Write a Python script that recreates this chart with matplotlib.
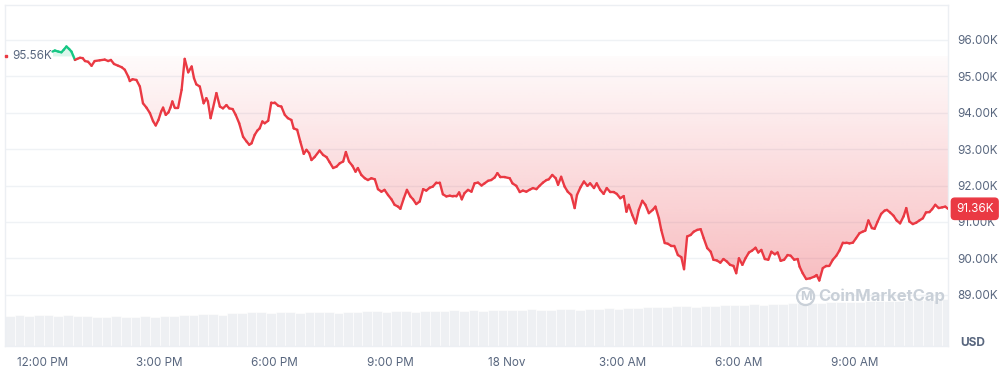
import numpy as np
import matplotlib
matplotlib.use("Agg")
import matplotlib.pyplot as plt
from matplotlib.collections import LineCollection

plt.rcParams["font.family"] = ["Inter", "DejaVu Sans"]

GRAY = "#58667e"
GRID = "#eff2f5"
RED = "#ea3943"
GREEN = "#16c784"

# hours after 12:00 PM (17 Nov) and BTC price in thousands of USD
hours = [
    0.25, 0.31, 0.40, 0.48, 0.54, 0.61, 0.68, 0.74, 0.83, 0.89,
    0.96, 1.03, 1.09, 1.17, 1.26, 1.34, 1.47, 1.60, 1.69, 1.76,
    1.84, 1.95, 2.04, 2.12, 2.21, 2.25, 2.32, 2.42, 2.51, 2.59,
    2.68, 2.77, 2.85, 2.92, 2.99, 3.06, 3.11, 3.18, 3.25, 3.30,
    3.35, 3.41, 3.50, 3.59, 3.67, 3.76, 3.85, 3.91, 3.97, 4.06,
    4.16, 4.23, 4.27, 4.34, 4.40, 4.49, 4.58, 4.66, 4.75, 4.82,
    4.91, 4.99, 5.08, 5.18, 5.27, 5.34, 5.40, 5.48, 5.55, 5.61,
    5.68, 5.74, 5.83, 5.91, 6.00, 6.09, 6.17, 6.26, 6.34, 6.43,
    6.49, 6.58, 6.66, 6.75, 6.82, 6.89, 6.95, 7.03, 7.16, 7.25,
    7.34, 7.42, 7.51, 7.60, 7.68, 7.77, 7.84, 7.92, 8.01, 8.09,
    8.15, 8.24, 8.33, 8.41, 8.50, 8.59, 8.67, 8.76, 8.84, 8.93,
    9.02, 9.10, 9.19, 9.25, 9.34, 9.42, 9.51, 9.58, 9.66, 9.75,
    9.84, 9.92, 10.01, 10.09, 10.18, 10.27, 10.35, 10.44, 10.53, 10.61,
    10.70, 10.77, 10.84, 10.91, 11.00, 11.09, 11.17, 11.26, 11.35, 11.43,
    11.52, 11.60, 11.69, 11.76, 11.84, 11.95, 12.08, 12.15, 12.25, 12.34,
    12.42, 12.51, 12.59, 12.68, 12.77, 12.85, 12.94, 13.03, 13.09, 13.18,
    13.27, 13.33, 13.41, 13.50, 13.58, 13.67, 13.76, 13.82, 13.91, 14.00,
    14.09, 14.16, 14.26, 14.33, 14.42, 14.51, 14.59, 14.68, 14.77, 14.85,
    14.94, 15.03, 15.10, 15.16, 15.25, 15.34, 15.42, 15.51, 15.59, 15.68,
    15.78, 15.85, 15.94, 16.00, 16.09, 16.17, 16.26, 16.34, 16.43, 16.52,
    16.59, 16.67, 16.76, 16.84, 16.93, 17.02, 17.10, 17.19, 17.28, 17.35,
    17.44, 17.53, 17.61, 17.70, 17.78, 17.87, 17.94, 18.01, 18.10, 18.18,
    18.27, 18.35, 18.44, 18.51, 18.59, 18.68, 18.77, 18.85, 18.94, 19.01,
    19.09, 19.18, 19.27, 19.35, 19.44, 19.53, 19.58, 19.66, 19.75, 19.85,
    19.97, 20.02, 20.09, 20.18, 20.27, 20.35, 20.44, 20.53, 20.61, 20.70,
    20.79, 20.87, 20.96, 21.04, 21.13, 21.21, 21.28, 21.36, 21.45, 21.52,
    21.60, 21.69, 21.78, 21.84, 21.92, 22.01, 22.09, 22.18, 22.27, 22.34,
    22.42, 22.51, 22.60, 22.68, 22.77, 22.85, 22.94, 23.01, 23.09, 23.18,
    23.27, 23.35, 23.42,
]
prices = [
    95.68, 95.71, 95.68, 95.66, 95.73, 95.82, 95.75, 95.68, 95.45, 95.48,
    95.51, 95.50, 95.42, 95.40, 95.29, 95.42, 95.44, 95.46, 95.42, 95.45,
    95.34, 95.29, 95.25, 95.18, 94.99, 94.87, 94.92, 94.90, 94.72, 94.26,
    94.14, 93.99, 93.77, 93.65, 93.80, 94.03, 94.14, 93.94, 94.01, 94.14,
    94.31, 94.14, 94.14, 94.63, 95.48, 95.11, 95.27, 94.95, 94.78, 94.72,
    94.26, 94.40, 94.31, 93.85, 94.12, 94.54, 94.17, 94.12, 94.21, 94.12,
    94.10, 93.94, 93.71, 93.34, 93.21, 93.12, 93.16, 93.39, 93.51, 93.57,
    93.76, 93.71, 93.78, 94.28, 94.28, 94.19, 94.17, 93.94, 93.85, 93.80,
    93.57, 93.53, 93.21, 92.87, 92.98, 92.89, 92.70, 92.78, 92.96, 92.84,
    92.78, 92.64, 92.48, 92.52, 92.61, 92.66, 92.92, 92.66, 92.54, 92.38,
    92.48, 92.29, 92.20, 92.15, 92.20, 92.17, 91.90, 91.83, 91.88, 91.74,
    91.62, 91.47, 91.42, 91.36, 91.65, 91.88, 91.70, 91.62, 91.49, 91.56,
    91.90, 91.86, 91.94, 91.97, 92.08, 92.08, 91.76, 91.70, 91.72, 91.70,
    91.70, 91.81, 91.62, 91.79, 91.88, 91.83, 92.06, 92.08, 92.00, 92.06,
    92.13, 92.15, 92.22, 92.34, 92.23, 92.23, 92.20, 92.06, 91.99, 91.82,
    91.86, 91.83, 91.88, 91.93, 91.90, 91.99, 92.08, 92.15, 92.17, 92.29,
    92.20, 92.02, 92.24, 91.97, 91.83, 91.74, 91.38, 91.74, 91.95, 92.11,
    91.99, 92.06, 91.93, 92.06, 91.88, 91.77, 91.93, 91.82, 91.82, 91.77,
    91.65, 91.71, 91.28, 91.47, 91.19, 90.96, 91.33, 91.58, 91.47, 91.24,
    91.33, 91.42, 91.10, 90.78, 90.42, 90.40, 90.34, 90.34, 90.09, 90.03,
    89.70, 90.60, 90.64, 90.73, 90.78, 90.80, 90.55, 90.28, 90.18, 89.96,
    89.94, 89.88, 89.98, 89.91, 89.82, 89.79, 89.59, 90.00, 89.82, 90.00,
    90.16, 90.21, 90.29, 90.16, 90.23, 89.98, 89.96, 90.18, 90.11, 90.16,
    89.93, 89.96, 90.09, 90.07, 89.96, 89.98, 89.77, 89.59, 89.43, 89.45,
    89.50, 89.54, 89.39, 89.73, 89.79, 89.79, 89.96, 90.07, 90.21, 90.43,
    90.43, 90.41, 90.43, 90.55, 90.69, 90.73, 90.76, 91.04, 90.83, 90.81,
    91.01, 91.22, 91.31, 91.33, 91.26, 91.17, 91.04, 90.96, 91.15, 91.38,
    91.01, 90.94, 90.98, 91.04, 91.10, 91.26, 91.27, 91.35, 91.47, 91.38,
    91.40, 91.42, 91.36,
]
open_price = 95.56
last_price = 91.36

# volume bars, every 15 minutes starting just before noon (relative units)
vol_start = -0.98
volumes = [
    30, 31, 30, 31, 31, 30, 31, 30, 30, 29, 29, 30, 29, 29, 30, 29,
    30, 30, 31, 31, 32, 32, 31, 33, 33, 34, 34, 33, 34, 34, 33, 34,
    34, 34, 33, 34, 34, 35, 35, 34, 35, 35, 34, 35, 35, 35, 36, 35,
    36, 35, 36, 36, 36, 36, 37, 36, 36, 37, 37, 36, 37, 37, 38, 37,
    38, 38, 39, 39, 39, 40, 40, 39, 40, 40, 41, 41, 41, 42, 41, 42,
    42, 43, 43, 43, 43, 44, 44, 44, 44, 45, 45, 45, 45, 46, 46, 46,
    46, 47,
]

tick_hours = [0, 3, 6, 9, 12, 15, 18, 21]
tick_labels = ["12:00 PM", "3:00 PM", "6:00 PM", "9:00 PM", "18 Nov",
               "3:00 AM", "6:00 AM", "9:00 AM"]
price_ticks = [89, 90, 91, 92, 93, 94, 95, 96]

h = np.array(hours)
p = np.array(prices)
vol_x = vol_start + 0.25 * np.arange(len(volumes))

fig = plt.figure(figsize=(10.05, 3.7), dpi=100)
fig.patch.set_facecolor("white")
ax_v = fig.add_axes([5 / 1005, 24 / 370, 943 / 1005, 341 / 370])
ax = fig.add_axes([5 / 1005, 24 / 370, 943 / 1005, 341 / 370], sharex=ax_v)
ax.patch.set_visible(False)

xlim = (-0.98, 23.42)
ylim = (87.59, 96.96)

# volume strip
ax_v.bar(vol_x, volumes, width=0.25, align="edge", color="#eef0f3",
         edgecolor="white", linewidth=0.4)
ax_v.set_ylim(0, 341)
ax_v.set_yticks([])
for s in ax_v.spines.values():
    s.set_visible(False)
ax_v.tick_params(axis="x", length=0, labelbottom=False)

# price axes
ax.set_xlim(*xlim)
ax.set_ylim(*ylim)
ax.grid(axis="y", color=GRID, lw=1.0)
ax.set_axisbelow(True)
for s in ax.spines.values():
    s.set_color("#eceff3")
    s.set_linewidth(1.0)
ax.yaxis.tick_right()
ax.set_yticks(price_ticks)
ax.set_yticklabels([f"{v:.2f}K" for v in price_ticks])
ax.set_xticks(tick_hours)
ax.set_xticklabels(tick_labels)
ax.tick_params(axis="y", length=0, pad=7, labelsize=8.4, labelcolor=GRAY)
ax.tick_params(axis="x", length=0, pad=8, labelsize=8.4, labelcolor=GRAY)

# gradient fill below the open price (red) and above it (green)
red_poly = ax.fill_between(h, np.minimum(p, open_price), open_price,
                           facecolor="none", edgecolor="none")
grad = np.zeros((200, 2, 4))
grad[..., :3] = matplotlib.colors.to_rgb(RED)
grad[..., 3] = np.linspace(0.02, 0.42, 200)[:, None]
im = ax.imshow(grad, extent=(xlim[0], xlim[1], ylim[0], open_price),
               origin="upper", aspect="auto", interpolation="bilinear",
               zorder=1)
im.set_clip_path(red_poly.get_paths()[0], transform=ax.transData)
ax.fill_between(h, np.maximum(p, open_price), open_price,
                color=GREEN, alpha=0.15, lw=0, zorder=1)

# line colored by position relative to open
pts = np.column_stack([h, p])
segs = np.stack([pts[:-1], pts[1:]], axis=1)
mid = (p[:-1] + p[1:]) / 2
cols = [GREEN if m > open_price else RED for m in mid]
lc = LineCollection(segs, colors=cols, linewidths=1.7, capstyle="round",
                    joinstyle="round", zorder=3)
ax.add_collection(lc)
ax.set_xlim(*xlim)
ax.set_ylim(*ylim)

# open price marker and label
ax.plot([xlim[0] + 0.02], [open_price], marker="s", ms=2, color=RED,
        clip_on=False, zorder=4)
ax.text(-0.8, open_price, "95.56K", ha="left", va="center", fontsize=8.4,
        color=GRAY, zorder=4)

# current price tag
ax.text(1.0 + 8 / 943, last_price, f"{last_price:.2f}K",
        transform=ax.get_yaxis_transform(), ha="left", va="center",
        fontsize=8.4, color="white", zorder=5, clip_on=False,
        bbox=dict(boxstyle="round,pad=0.4,rounding_size=0.3", fc=RED,
                  ec=RED))

# watermark
ax.text(0.849, 0.145, "M", transform=ax.transAxes, ha="center",
        va="center", fontsize=9, fontweight="bold", color="#c9d0d8",
        bbox=dict(boxstyle="circle,pad=0.2", fc="none", ec="#c9d0d8",
              lw=1.6), zorder=2)
ax.text(0.862, 0.145, "CoinMarketCap", transform=ax.transAxes,
        ha="left", va="center", fontsize=12, fontweight="bold",
        color="#c9d0d8", zorder=2)

fig.text(973 / 1005, 1 - 343 / 370, "USD", ha="center", va="center",
         fontsize=8.6, fontweight="bold", color=GRAY)

fig.savefig("out.png", dpi=100, facecolor="white")
